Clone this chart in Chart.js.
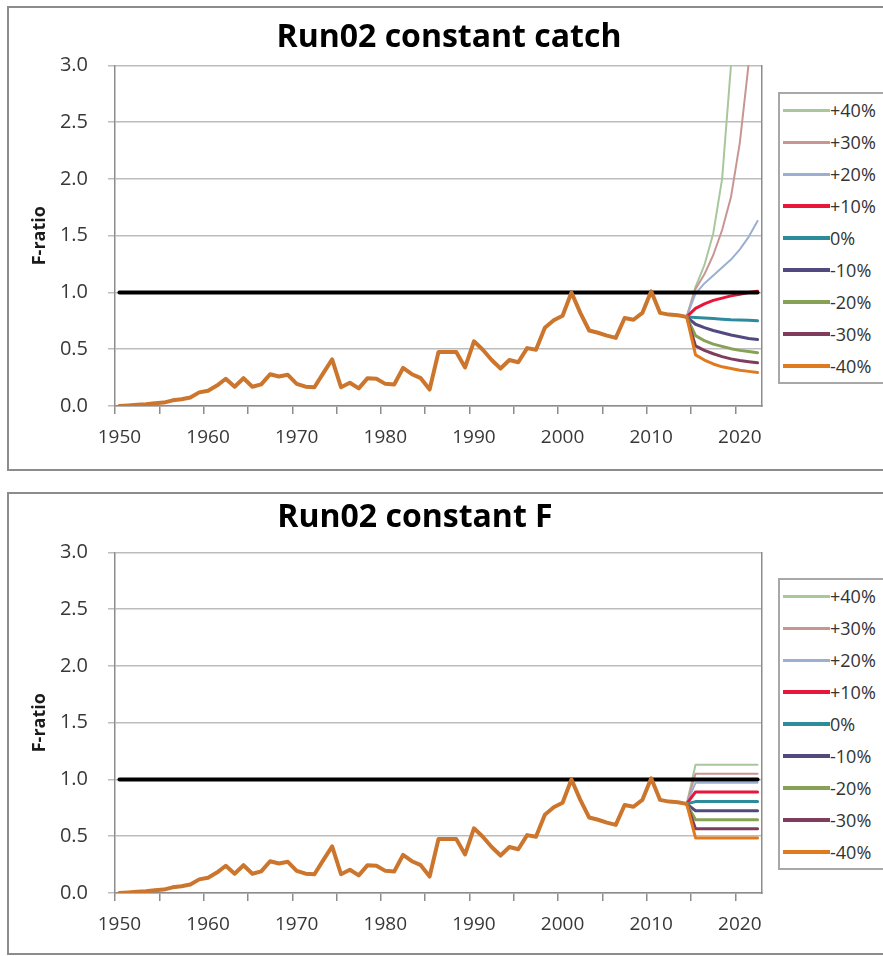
<!DOCTYPE html>
<html>
<head>
<meta charset="utf-8">
<script src="https://cdn.jsdelivr.net/npm/chart.js@4.4.1/dist/chart.umd.min.js"></script>
<style>
  html, body { margin: 0; padding: 0; background: #fff; width: 883px; height: 956px; overflow: hidden; }
  .frame { position: absolute; border: 2px solid #8c8c8c; box-sizing: border-box; background: #fff; }
  .holder { position: absolute; }
  .legend { position: absolute; border: 2px solid #a8a8a8; box-sizing: border-box; background: #fff;
            font: 18px "Open Sans", sans-serif; color: #333; width: 170px; }
  .legend .row { height: 32px; display: flex; align-items: center; white-space: nowrap; }
  .legend .sw { width: 47px; margin-left: 3px; flex: none; }
</style>
</head>
<body>
<div class="frame" style="left:7px; top:6px; width:960px; height:465px;"></div>
<div class="frame" style="left:7px; top:492px; width:960px; height:463px;"></div>
<div class="holder" style="left:8px; top:7px;"><canvas id="catchChart" width="882" height="463"></canvas></div>
<div class="holder" style="left:8px; top:494px;"><canvas id="fChart" width="882" height="463"></canvas></div>
<div class="legend" id="catchLegend" style="left:778px; top:92px;"></div>
<div class="legend" id="fLegend" style="left:778px; top:578px;"></div>
<script>
// Years on the category axis
const years = [
  1950, 1951, 1952, 1953, 1954, 1955, 1956, 1957, 1958, 1959,
  1960, 1961, 1962, 1963, 1964, 1965, 1966, 1967, 1968, 1969,
  1970, 1971, 1972, 1973, 1974, 1975, 1976, 1977, 1978, 1979,
  1980, 1981, 1982, 1983, 1984, 1985, 1986, 1987, 1988, 1989,
  1990, 1991, 1992, 1993, 1994, 1995, 1996, 1997, 1998, 1999,
  2000, 2001, 2002, 2003, 2004, 2005, 2006, 2007, 2008, 2009,
  2010, 2011, 2012, 2013, 2014, 2015, 2016, 2017, 2018, 2019,
  2020, 2021, 2022
];

// Estimated F-ratio, 1950-2014
const historic = [
  0.00, 0.005, 0.01, 0.015, 0.025, 0.03, 0.05, 0.06, 0.075, 0.12,
  0.135, 0.18, 0.24, 0.17, 0.245, 0.17, 0.19, 0.28, 0.26, 0.275,
  0.195, 0.17, 0.165, 0.29, 0.41, 0.165, 0.205, 0.155, 0.245, 0.24,
  0.195, 0.19, 0.335, 0.28, 0.245, 0.145, 0.475, 0.475, 0.475, 0.34,
  0.57, 0.495, 0.405, 0.33, 0.405, 0.385, 0.51, 0.495, 0.69, 0.755,
  0.795, 1.00, 0.82, 0.665, 0.645, 0.62, 0.60, 0.775, 0.76, 0.82,
  1.01, 0.82, 0.805, 0.80, 0.785
];

// Projections start from the last assessed year
const projectionStart = 2014;

// Constant catch projections, 2014-2022
const catchPlus40  = [0.785, 1.05, 1.24, 1.52, 2.00, 3.00, 4.90, 7.80, 12.0];
const catchPlus30  = [0.785, 1.03, 1.16, 1.33, 1.55, 1.84, 2.32, 3.02, 4.60];
const catchPlus20  = [0.785, 0.99, 1.08, 1.15, 1.22, 1.29, 1.38, 1.49, 1.63];
const catchPlus10  = [0.785, 0.86, 0.90, 0.93, 0.95, 0.97, 0.985, 1.00, 1.01];
const catchZero    = [0.785, 0.78, 0.775, 0.77, 0.765, 0.76, 0.758, 0.755, 0.75];
const catchMinus10 = [0.785, 0.72, 0.69, 0.665, 0.645, 0.625, 0.61, 0.595, 0.585];
const catchMinus20 = [0.785, 0.62, 0.575, 0.545, 0.525, 0.505, 0.49, 0.48, 0.47];
const catchMinus30 = [0.785, 0.53, 0.49, 0.46, 0.435, 0.415, 0.40, 0.39, 0.38];
const catchMinus40 = [0.785, 0.45, 0.405, 0.37, 0.345, 0.33, 0.315, 0.305, 0.295];

// Constant F projections, 2014-2022
const fPlus40  = [0.785, 1.13, 1.13, 1.13, 1.13, 1.13, 1.13, 1.13, 1.13];
const fPlus30  = [0.785, 1.05, 1.05, 1.05, 1.05, 1.05, 1.05, 1.05, 1.05];
const fPlus20  = [0.785, 0.97, 0.97, 0.97, 0.97, 0.97, 0.97, 0.97, 0.97];
const fPlus10  = [0.785, 0.89, 0.89, 0.89, 0.89, 0.89, 0.89, 0.89, 0.89];
const fZero    = [0.785, 0.805, 0.805, 0.805, 0.805, 0.805, 0.805, 0.805, 0.805];
const fMinus10 = [0.785, 0.725, 0.725, 0.725, 0.725, 0.725, 0.725, 0.725, 0.725];
const fMinus20 = [0.785, 0.645, 0.645, 0.645, 0.645, 0.645, 0.645, 0.645, 0.645];
const fMinus30 = [0.785, 0.565, 0.565, 0.565, 0.565, 0.565, 0.565, 0.565, 0.565];
const fMinus40 = [0.785, 0.485, 0.485, 0.485, 0.485, 0.485, 0.485, 0.485, 0.485];

// Reference level F = Fmsy
const limitValue = 1.0;

// Axis ticks
const yTicks = [0.0, 0.5, 1.0, 1.5, 2.0, 2.5, 3.0];

const scenarioNames = ['+40%', '+30%', '+20%', '+10%', '0%', '-10%', '-20%', '-30%', '-40%'];
const scenarioColors = ['#a9c79c', '#c99593', '#9bafd2', '#e8173a', '#2d8b9b',
                        '#524a7e', '#87a257', '#7f3c5d', '#e07a1f'];
const scenarioWidths = [2, 2, 2, 3, 3, 3, 3, 3, 3];
const swatchHeights  = [3, 3, 3, 4, 4, 4, 4, 4, 4];

const catchRuns = [catchPlus40, catchPlus30, catchPlus20, catchPlus10, catchZero,
                   catchMinus10, catchMinus20, catchMinus30, catchMinus40];
const fRuns = [fPlus40, fPlus30, fPlus20, fPlus10, fZero,
               fMinus10, fMinus20, fMinus30, fMinus40];

const startIdx = years.indexOf(projectionStart);
function onYears(values, offset) {
  return years.map((y, i) => {
    const k = i - offset;
    return (k >= 0 && k < values.length) ? values[k] : null;
  });
}

const FONT = '"Open Sans", sans-serif';
const GRID = '#bdbdbd';
const AXIS = '#8c8c8c';

function buildDatasets(runs) {
  const sets = [];
  sets.push({
    label: 'history', data: onYears(historic, 0),
    borderColor: '#cc752c', borderWidth: 4, order: 0
  });
  sets.push({
    label: 'limit', data: years.map(() => limitValue),
    borderColor: '#000000', borderWidth: 4, order: 1
  });
  runs.forEach((vals, k) => {
    sets.push({
      label: scenarioNames[k], data: onYears(vals, startIdx),
      borderColor: scenarioColors[k], borderWidth: scenarioWidths[k],
      order: 2 + (scenarioNames.length - 1 - k)
    });
  });
  return sets;
}

function makeChart(id, titleText, runs, titlePad, rightPad, rightAxisWidth) {
  return new Chart(document.getElementById(id), {
    type: 'line',
    data: { labels: years, datasets: buildDatasets(runs) },
    options: {
      responsive: false,
      animation: false,
      devicePixelRatio: 1,
      layout: { padding: { left: 0, right: rightPad, top: 0, bottom: 0 } },
      elements: {
        point: { radius: 0, hoverRadius: 0 },
        line: { tension: 0, borderCapStyle: 'round', borderJoinStyle: 'round', fill: false }
      },
      plugins: {
        legend: { display: false },
        tooltip: { enabled: false },
        title: {
          display: true, text: titleText, color: '#000',
          font: { family: FONT, size: 32, weight: 'bold' },
          padding: titlePad
        }
      },
      scales: {
        x: {
          type: 'category',
          offset: true,
          grid: {
            offset: true, drawOnChartArea: false, drawTicks: true, tickLength: 8,
            lineWidth: ctx => (ctx.index % 5 === 0 ? 1.5 : 0),
            tickColor: ctx => (ctx.index % 5 === 0 ? AXIS : 'rgba(0,0,0,0)')
          },
          border: { display: true, color: AXIS, width: 1.5 },
          ticks: {
            autoSkip: false, maxRotation: 0, minRotation: 0, padding: 12,
            color: '#383838', font: { family: FONT, size: 19 },
            callback: (v, i) => (years[i] % 10 === 0 ? String(years[i]) : '')
          },
          afterFit: s => { s.height = 64; }
        },
        y: {
          min: yTicks[0], max: yTicks[yTicks.length - 1],
          afterBuildTicks: s => { s.ticks = yTicks.map(v => ({ value: v })); },
          grid: { color: GRID, lineWidth: 1.5, tickLength: 7, tickColor: GRID },
          border: { display: true, color: AXIS, width: 1.5 },
          ticks: {
            padding: 20, color: '#383838', font: { family: FONT, size: 20 },
            callback: v => Number(v).toFixed(1)
          },
          title: {
            display: true, text: 'F-ratio', color: '#1a1a1a',
            font: { family: FONT, size: 18, weight: 'bold' },
            padding: { top: 21, bottom: 0 }
          },
          afterFit: s => { s.width = 107; }
        },
        edge: {
          type: 'linear', position: 'right', display: true,
          grid: { display: false, drawTicks: false },
          ticks: { display: false },
          border: { display: true, color: AXIS, width: 1.5 },
          afterFit: s => { s.width = rightAxisWidth; }
        }
      }
    }
  });
}

function buildLegend(id) {
  const box = document.getElementById(id);
  scenarioNames.forEach((name, k) => {
    const row = document.createElement('div');
    row.className = 'row';
    const sw = document.createElement('span');
    sw.className = 'sw';
    sw.style.height = swatchHeights[k] + 'px';
    sw.style.background = scenarioColors[k];
    const txt = document.createElement('span');
    txt.textContent = name;
    row.appendChild(sw);
    row.appendChild(txt);
    box.appendChild(row);
  });
}

makeChart('catchChart', 'Run02 constant catch', catchRuns, { top: 12, bottom: 8 }, 0, 128);
makeChart('fChart', 'Run02 constant F', fRuns, { top: 5, bottom: 15 }, 68, 60);
buildLegend('catchLegend');
buildLegend('fLegend');
</script>
</body>
</html>
